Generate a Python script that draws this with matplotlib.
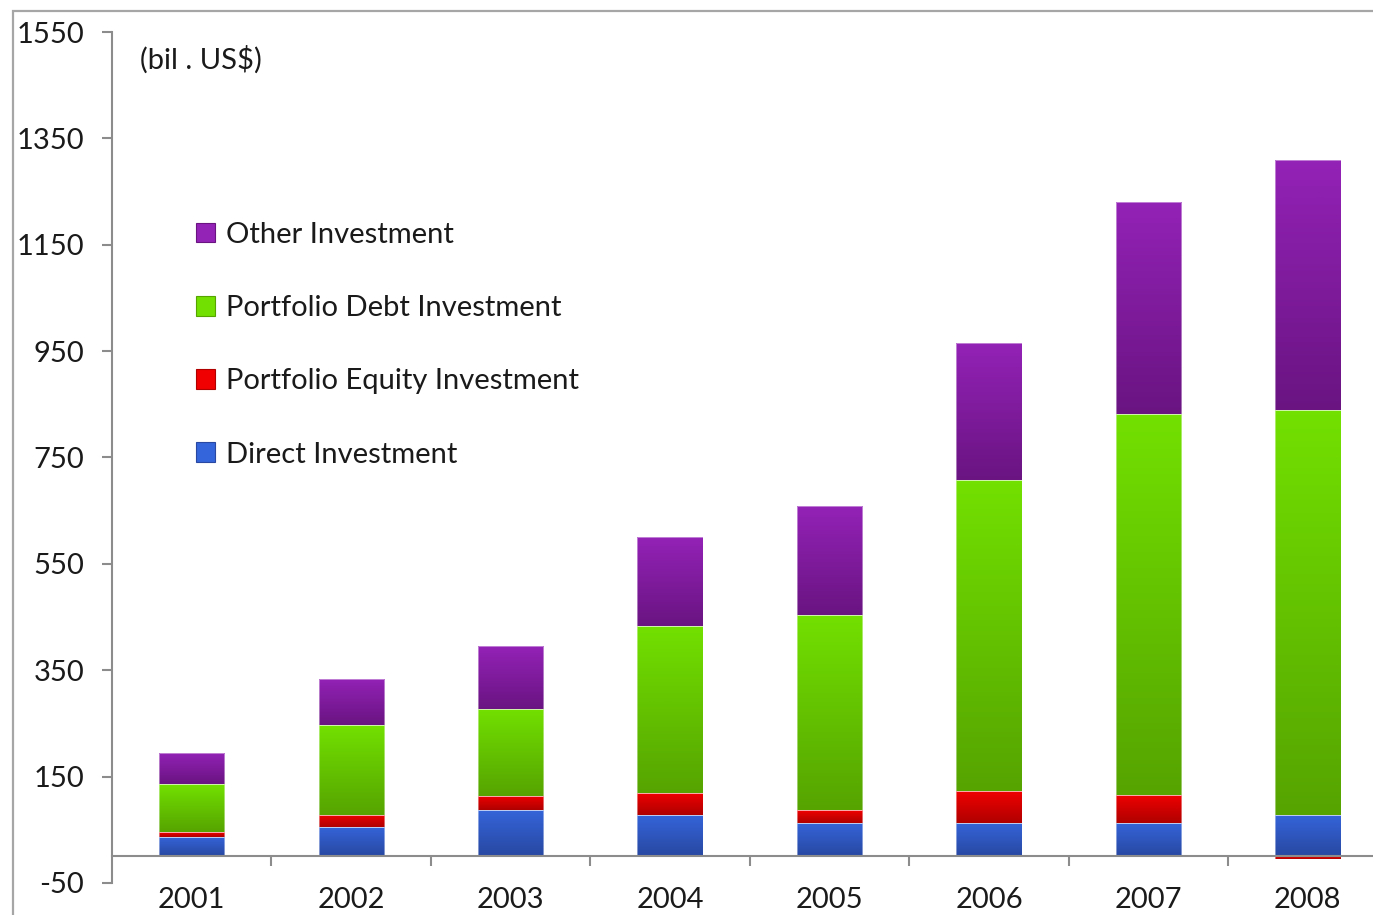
import numpy as np
import matplotlib
matplotlib.use("Agg")
import matplotlib.pyplot as plt
from matplotlib.colors import LinearSegmentedColormap
from matplotlib.patches import Rectangle

plt.rcParams['font.family'] = ['Lato', 'DejaVu Sans']
plt.rcParams['axes.unicode_minus'] = False

# data (bil. US$)
years = ['2001', '2002', '2003', '2004', '2005', '2006', '2007', '2008']
direct = [37, 55, 87, 78, 63, 63, 63, 78]
equity = [9, 23, 27, 42, 24, 60, 53, -5]
debt = [90, 169, 164, 314, 367, 584, 715, 761]
other = [59, 87, 117, 166, 204, 259, 399, 470]
yticks = [-50, 150, 350, 550, 750, 950, 1150, 1350, 1550]

# gradient colours, top -> bottom
grad = {
    'Other Investment': ('#9322b6', '#6a1482'),
    'Portfolio Debt Investment': ('#72e000', '#56a400'),
    'Portfolio Equity Investment': ('#f00000', '#b00000'),
    'Direct Investment': ('#3565da', '#2848a2'),
}
txt = '#1a1a1a'
axcol = '#8c8c8c'

fig = plt.figure(figsize=(13.73, 9.15), dpi=100)
ax = fig.add_axes([0.0816, 0.035, 0.929, 0.93])

x = np.arange(len(years))
direct = np.array(direct)
equity = np.array(equity)
debt = np.array(debt)
other = np.array(other)
base_debt = direct + np.clip(equity, 0, None)


def grad_bars(bars, c_top, c_bot):
    cmap = LinearSegmentedColormap.from_list('g', [c_bot, c_top])
    for b in bars:
        x0, y0 = b.get_x(), b.get_y()
        w, h = b.get_width(), b.get_height()
        lo, hi = min(y0, y0 + h), max(y0, y0 + h)
        img = np.linspace(1, 0, 64).reshape(-1, 1)
        im = ax.imshow(img, cmap=cmap, aspect='auto', extent=(x0, x0 + w, lo, hi),
                       origin='upper', zorder=2, interpolation='bilinear')
        im.set_clip_path(b)


w = 0.41
series = [
    ('Direct Investment', direct, 0),
    ('Portfolio Equity Investment', equity, np.where(equity >= 0, direct, 0)),
    ('Portfolio Debt Investment', debt, base_debt),
    ('Other Investment', other, base_debt + debt),
]
handles = {}
for name, vals, bot in series:
    bars = ax.bar(x, vals, w, bottom=bot, facecolor='none',
                  edgecolor='#ffffff', linewidth=0.6, alpha=0.5, zorder=3)
    grad_bars(bars, *grad[name])
    handles[name] = Rectangle((0, 0), 1, 1, facecolor=grad[name][0],
                              edgecolor=grad[name][1], linewidth=0.8)

ax.set_xlim(-0.5, len(years) - 0.5)
ax.set_ylim(-50, 1550)
ax.set_yticks(yticks)

for s in ['top', 'right']:
    ax.spines[s].set_visible(False)
ax.spines['left'].set_color(axcol)
ax.spines['left'].set_linewidth(1.5)
ax.spines['bottom'].set_position(('data', 0))
ax.spines['bottom'].set_color(axcol)
ax.spines['bottom'].set_linewidth(1.5)
ax.spines['bottom'].set_zorder(4)

ax.tick_params(axis='y', length=7, width=1.5, color=axcol, pad=13,
               labelsize=21, labelcolor=txt)
ax.set_xticks(x)
ax.set_xticklabels(years)
ax.set_xticks(x[:-1] + 0.5, minor=True)
ax.tick_params(axis='x', which='major', length=0, pad=22, labelsize=21, labelcolor=txt)
ax.tick_params(axis='x', which='minor', length=7, width=1.5, color=axcol, direction='out')

ax.text(0.022, 0.968, '(bil . US$)', transform=ax.transAxes, fontsize=21,
        color=txt, va='center', ha='left')

order = ['Other Investment', 'Portfolio Debt Investment',
         'Portfolio Equity Investment', 'Direct Investment']
leg = ax.legend([handles[k] for k in order], order, loc='upper left',
                bbox_to_anchor=(0.066, 0.777), frameon=False, fontsize=21,
                handlelength=0.66, handleheight=0.66, handletextpad=0.37,
                labelspacing=1.62, borderpad=0, borderaxespad=0)
for t in leg.get_texts():
    t.set_color(txt)

# outer chart-area border
fig.patches.append(Rectangle((13 / 1373, -0.2), 1.0, 1.2 - 11 / 915,
                             transform=fig.transFigure, fill=False,
                             edgecolor='#a6a6a6', linewidth=1.6))

fig.savefig('out.png', dpi=100)
